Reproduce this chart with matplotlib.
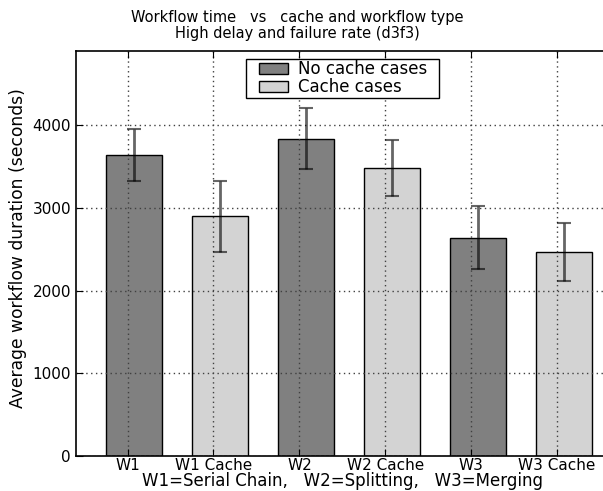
import matplotlib
matplotlib.use('Agg')
import matplotlib.pyplot as plt
from matplotlib.patches import Rectangle
from matplotlib.legend_handler import HandlerPatch
import numpy as np

labels = ['W1', 'W1 Cache', 'W2', 'W2 Cache', 'W3', 'W3 Cache']
durations = [3637, 2902, 3838, 3483, 2639, 2466]
errors = [315, 430, 371, 335, 380, 353]
colors = ['gray', 'lightgray', 'gray', 'lightgray', 'gray', 'lightgray']


def inset_patch(legend, orig_handle, xdescent, ydescent, width, height, fontsize):
    # leave some room on the left of the legend swatch, like the old legend did
    off = 0.7 * fontsize
    return Rectangle((-xdescent + off, -ydescent), width - off, height)


fig = plt.figure(figsize=(6.03, 4.91), dpi=100)
ax = fig.add_axes([0.126, 0.072, 0.912, 0.824])
mid = 0.4845  # visible middle of the axes (right part is cropped off)

ind = np.arange(len(labels))
bars = ax.bar(ind + 0.075, durations, 0.65, color=colors, edgecolor='black',
              linewidth=1.0, zorder=1)
ax.errorbar(ind + 0.075, durations, yerr=errors, fmt='none', ecolor='black', alpha=0.6,
            elinewidth=2.0, capsize=5, capthick=1.5, zorder=3)

ax.set_xlim(-0.6, 5.8)
ax.set_ylim(0, 4900)
ax.set_yticks([0, 1000, 2000, 3000, 4000])
ax.set_xticks(ind)
ax.set_xticklabels(labels, fontsize=11)
ax.tick_params(axis='y', labelsize=11)
ax.tick_params(direction='in', top=True, right=True, length=5)
ax.tick_params(axis='x', pad=2)
ax.grid(True, linestyle=(0, (1, 2.5)), color='0.25', linewidth=1.0, zorder=2)
ax.set_axisbelow(False)
for s in ax.spines.values():
    s.set_linewidth(1.2)

ax.set_ylabel('Average workflow duration (seconds)', fontsize=12.3)
ax.yaxis.label.set_y(0.512)
ax.set_xlabel('W1=Serial Chain,   W2=Splitting,   W3=Merging', fontsize=12, labelpad=-1)
ax.xaxis.label.set_x(mid)
fig.text(297 / 603, 1 - 10 / 491,
         'Workflow time   vs   cache and workflow type\nHigh delay and failure rate (d3f3)',
         ha='center', va='top', fontsize=10.5, linespacing=1.05)

leg = ax.legend([bars[0], bars[1]], ['No cache cases  ', 'Cache cases'], loc='upper center',
                bbox_to_anchor=(mid, 1.0), fontsize=12, fancybox=False, framealpha=1,
                borderaxespad=0.45, handlelength=2.4, handletextpad=0.6, borderpad=0.1,
                labelspacing=0.0,
                handler_map={Rectangle: HandlerPatch(patch_func=inset_patch)})
leg.get_frame().set_edgecolor('black')
leg.get_frame().set_linewidth(1.0)

plt.savefig('out.png', dpi=100)
